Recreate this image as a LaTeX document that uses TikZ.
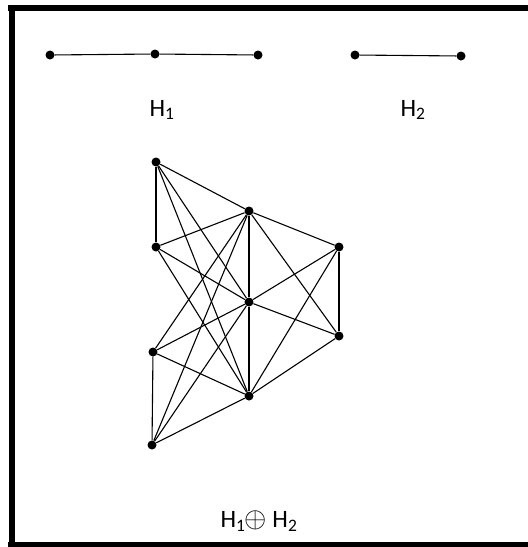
\documentclass[tikz,border=0pt]{standalone}
\usepackage{fontspec}
\setmainfont{Carlito}
\begin{document}
\begin{tikzpicture}[x=1pt,y=-1pt,
  vtx/.style={circle,fill=black,inner sep=0pt,minimum size=9pt},
  edge/.style={line width=1.1pt},
  frame/.style={line width=6pt},
  lbl/.style={font=\fontsize{25}{30}\selectfont}]
\useasboundingbox (0,0) rectangle (528,547);
% frame (top, left, bottom)
\draw[frame] (8,8) -- (528,8);
\draw[frame] (11.5,5) -- (11.5,547);
\draw[line width=5pt] (8,544.5) -- (528,544.5);
% H1
\node[vtx] (p1) at (50,55) {};
\node[vtx] (p2) at (155,54) {};
\node[vtx] (p3) at (258,55) {};
\draw[edge] (p1) -- (p2) -- (p3);
\node[lbl] (h1) at (162,110) {H\textsubscript{1}};
% H2
\node[vtx] (q1) at (355,55) {};
\node[vtx] (q2) at (461,56) {};
\draw[edge] (q1) -- (q2);
\node[lbl] (h2) at (413,110) {H\textsubscript{2}};
% join graph
\node[vtx] (A) at (156,162) {};
\node[vtx] (C) at (156,247) {};
\node[vtx] (F) at (153,352) {};
\node[vtx] (I) at (152,445) {};
\node[vtx] (B) at (249,211) {};
\node[vtx] (E) at (249,302) {};
\node[vtx] (H) at (249,396) {};
\node[vtx] (D) at (339,247) {};
\node[vtx] (G) at (339,336) {};
\foreach \l in {A,C,F,I}{\foreach \m in {B,E,H}{\draw[edge] (\l) -- (\m);}}
\foreach \m in {B,E,H}{\foreach \r in {D,G}{\draw[edge] (\m) -- (\r);}}
\draw[edge] (A) -- (C);
\draw[edge] (F) -- (I);
\draw[edge] (B) -- (E) -- (H);
\draw[edge] (D) -- (G);
\node[lbl] (hj) at (259,521) {H\textsubscript{1}\kern-1pt\scalebox{1.15}{$\oplus$} H\textsubscript{2}};
\end{tikzpicture}
\end{document}
